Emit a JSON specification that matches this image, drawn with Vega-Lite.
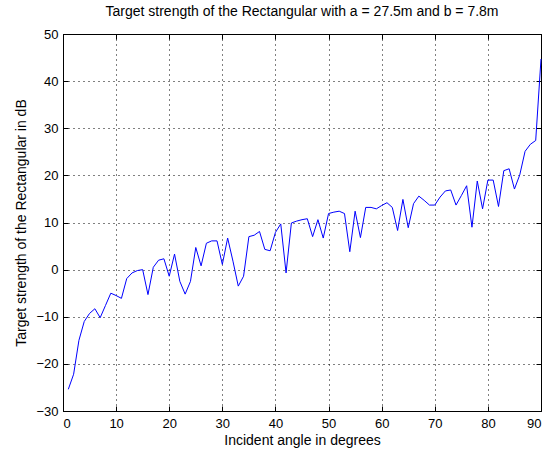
{
  "$schema": "https://vega.github.io/schema/vega-lite/v6.json",
  "width": 478,
  "height": 377,
  "autosize": {"type": "none"},
  "padding": {"left": 63, "top": 34, "right": 12, "bottom": 39},
  "background": "white",
  "config": {
    "font": "Liberation Sans",
    "view": {"stroke": "black", "strokeWidth": 1},
    "axis": {
      "labelFont": "Liberation Sans",
      "titleFont": "Liberation Sans",
      "labelFontSize": 13,
      "titleFontSize": 14,
      "titleFontWeight": "normal",
      "labelColor": "black",
      "titleColor": "black",
      "domainColor": "black",
      "tickColor": "black",
      "tickSize": -5,
      "gridColor": "black",
      "gridDash": [1, 4],
      "gridOpacity": 1,
      "gridWidth": 1
    }
  },
  "title": {
    "text": "Target strength of the Rectangular with a = 27.5m and b = 7.8m",
    "font": "Liberation Sans",
    "fontSize": 14,
    "fontWeight": "normal",
    "color": "black",
    "offset": 9
  },
  "data": {
    "values": [
      {"angle": 1, "ts": -25.4},
      {"angle": 2, "ts": -22.2},
      {"angle": 3, "ts": -15.0},
      {"angle": 4, "ts": -11.0},
      {"angle": 5, "ts": -9.3},
      {"angle": 6, "ts": -8.3},
      {"angle": 7, "ts": -10.2},
      {"angle": 8, "ts": -7.6},
      {"angle": 9, "ts": -5.0},
      {"angle": 10, "ts": -5.5},
      {"angle": 11, "ts": -6.1},
      {"angle": 12, "ts": -1.9},
      {"angle": 13, "ts": -0.7},
      {"angle": 14, "ts": -0.2},
      {"angle": 15, "ts": 0.0},
      {"angle": 16, "ts": -5.3},
      {"angle": 17, "ts": 0.5},
      {"angle": 18, "ts": 2.0},
      {"angle": 19, "ts": 2.3},
      {"angle": 20, "ts": -1.4},
      {"angle": 21, "ts": 3.3},
      {"angle": 22, "ts": -2.5},
      {"angle": 23, "ts": -5.2},
      {"angle": 24, "ts": -2.5},
      {"angle": 25, "ts": 4.7},
      {"angle": 26, "ts": 0.8},
      {"angle": 27, "ts": 5.6},
      {"angle": 28, "ts": 6.1},
      {"angle": 29, "ts": 6.1},
      {"angle": 30, "ts": 1.1},
      {"angle": 31, "ts": 6.7},
      {"angle": 32, "ts": 1.8},
      {"angle": 33, "ts": -3.5},
      {"angle": 34, "ts": -1.4},
      {"angle": 35, "ts": 7.0},
      {"angle": 36, "ts": 7.3},
      {"angle": 37, "ts": 8.1},
      {"angle": 38, "ts": 4.3},
      {"angle": 39, "ts": 4.0},
      {"angle": 40, "ts": 7.9},
      {"angle": 41, "ts": 9.7},
      {"angle": 42, "ts": -0.7},
      {"angle": 43, "ts": 9.9},
      {"angle": 44, "ts": 10.3},
      {"angle": 45, "ts": 10.6},
      {"angle": 46, "ts": 10.8},
      {"angle": 47, "ts": 7.0},
      {"angle": 48, "ts": 10.6},
      {"angle": 49, "ts": 6.7},
      {"angle": 50, "ts": 11.9},
      {"angle": 51, "ts": 12.2},
      {"angle": 52, "ts": 12.4},
      {"angle": 53, "ts": 11.9},
      {"angle": 54, "ts": 3.8},
      {"angle": 55, "ts": 12.4},
      {"angle": 56, "ts": 6.8},
      {"angle": 57, "ts": 13.2},
      {"angle": 58, "ts": 13.2},
      {"angle": 59, "ts": 12.9},
      {"angle": 60, "ts": 13.6},
      {"angle": 61, "ts": 14.2},
      {"angle": 62, "ts": 13.2},
      {"angle": 63, "ts": 8.3},
      {"angle": 64, "ts": 14.9},
      {"angle": 65, "ts": 8.9},
      {"angle": 66, "ts": 14.0},
      {"angle": 67, "ts": 15.6},
      {"angle": 68, "ts": 14.7},
      {"angle": 69, "ts": 13.7},
      {"angle": 70, "ts": 13.7},
      {"angle": 71, "ts": 15.4},
      {"angle": 72, "ts": 16.7},
      {"angle": 73, "ts": 16.9},
      {"angle": 74, "ts": 13.7},
      {"angle": 75, "ts": 15.7},
      {"angle": 76, "ts": 17.8},
      {"angle": 77, "ts": 9.0},
      {"angle": 78, "ts": 18.8},
      {"angle": 79, "ts": 12.9},
      {"angle": 80, "ts": 19.0},
      {"angle": 81, "ts": 19.0},
      {"angle": 82, "ts": 13.4},
      {"angle": 83, "ts": 21.0},
      {"angle": 84, "ts": 21.4},
      {"angle": 85, "ts": 17.1},
      {"angle": 86, "ts": 20.1},
      {"angle": 87, "ts": 25.1},
      {"angle": 88, "ts": 26.6},
      {"angle": 89, "ts": 27.4},
      {"angle": 90, "ts": 44.7}
    ]
  },
  "resolve": {"axis": {"x": "independent", "y": "independent"}},
  "layer": [
    {
      "mark": {"type": "line", "color": "#0000ff", "strokeWidth": 1},
      "encoding": {
        "x": {
          "field": "angle",
          "type": "quantitative",
          "scale": {"domain": [0, 90], "nice": false, "zero": false},
          "axis": {"values": [0, 10, 20, 30, 40, 50, 60, 70, 80, 90], "title": "Incident angle in degrees", "labelPadding": 11, "titlePadding": 3}
        },
        "y": {
          "field": "ts",
          "type": "quantitative",
          "scale": {"domain": [-30, 50], "nice": false, "zero": false},
          "axis": {"values": [-30, -20, -10, 0, 10, 20, 30, 40, 50], "title": "Target strength of the Rectangular in dB", "labelPadding": 10, "titlePadding": 7}
        }
      }
    },
    {
      "mark": {"type": "point", "opacity": 0},
      "encoding": {
        "x": {
          "field": "angle",
          "type": "quantitative",
          "scale": {"domain": [0, 90], "nice": false, "zero": false},
          "axis": {"orient": "top", "values": [0, 10, 20, 30, 40, 50, 60, 70, 80, 90], "title": null, "labels": false, "grid": false, "domain": false}
        },
        "y": {
          "field": "ts",
          "type": "quantitative",
          "scale": {"domain": [-30, 50], "nice": false, "zero": false},
          "axis": {"orient": "right", "values": [-30, -20, -10, 0, 10, 20, 30, 40, 50], "title": null, "labels": false, "grid": false, "domain": false}
        }
      }
    }
  ]
}
